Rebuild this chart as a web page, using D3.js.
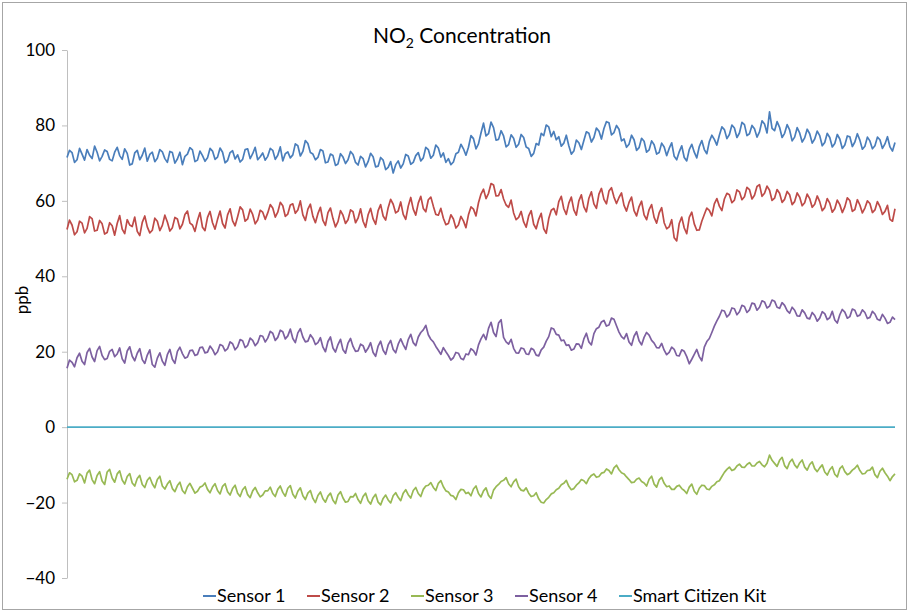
<!DOCTYPE html>
<html>
<head>
<meta charset="utf-8">
<script src="https://cdn.jsdelivr.net/npm/d3@7"></script>
<style>
  body { margin: 0; background: #fff; }
  svg { font-family: Lato, "Open Sans", sans-serif; }
</style>
</head>
<body>
<svg id="chart" width="909" height="612"></svg>
<script>
// values, one sample every ~2.5 px
const sensor1 = [
  71.5, 73.4, 72.8, 70.2, 70.9, 73.9, 72.4, 70.8, 73.6, 72.1, 71.2, 74.5, 72.9, 70.6, 71.8, 73.5, 73.1, 71.0, 70.6, 72.9,
  74.2, 72.0, 71.0, 73.8, 72.6, 69.5, 69.8, 72.7, 73.4, 70.9, 72.1, 74.0, 70.5, 72.3, 72.9, 70.4, 71.3, 73.6, 73.0, 71.2,
  70.2, 73.1, 72.8, 70.0, 71.1, 72.9, 69.6, 71.8, 72.4, 74.1, 73.5, 70.4, 70.8, 73.2, 72.0, 70.5, 71.4, 73.9, 73.2, 71.0,
  71.6, 74.0, 72.9, 70.1, 70.7, 72.8, 73.3, 71.1, 72.2, 70.3, 71.0, 73.6, 73.8, 71.2, 72.5, 74.2, 70.9, 71.7, 72.7, 70.8,
  71.8, 73.9, 73.4, 71.0, 72.1, 74.3, 70.6, 72.5, 73.0, 71.4, 72.2, 75.1, 74.6, 71.9, 73.1, 76.0, 75.2, 72.8, 72.4, 70.9,
  71.5, 73.6, 73.2, 70.1, 70.3, 72.4, 72.0, 69.4, 69.8, 72.5, 71.6, 69.9, 70.9, 73.1, 72.3, 70.2, 69.5, 71.8, 71.2, 69.0,
  70.4, 72.6, 71.7, 69.0, 69.2, 71.5, 70.8, 68.3, 68.9, 70.4, 67.4, 69.6, 70.6, 68.7, 69.8, 72.3, 71.9, 69.7, 70.2, 72.0,
  72.8, 70.6, 71.4, 74.2, 73.6, 71.3, 72.1, 74.8, 74.0, 71.6, 72.7, 70.2, 71.2, 69.6, 70.3, 72.5, 72.9, 75.0, 73.8, 72.1,
  74.2, 77.3, 76.5, 73.8, 75.1, 78.0, 80.6, 77.2, 77.8, 80.9, 79.4, 76.1, 76.3, 78.6, 77.2, 74.3, 74.9, 77.5, 76.6, 74.2,
  75.0, 77.6, 76.8, 74.3, 73.9, 71.8, 72.6, 75.2, 74.8, 77.9, 77.3, 80.1, 79.6, 77.0, 78.4, 76.2, 77.0, 74.5, 75.3, 77.4,
  74.6, 72.4, 73.2, 76.1, 75.4, 73.6, 76.0, 78.3, 77.9, 75.6, 76.8, 79.3, 78.5, 76.4, 79.2, 81.0, 80.7, 77.5, 78.1, 80.0,
  79.0, 75.9, 76.4, 74.2, 75.0, 77.4, 76.2, 73.4, 74.1, 76.6, 75.8, 72.9, 73.5, 75.9, 74.9, 72.4, 72.8, 75.3, 74.3, 72.0,
  73.9, 75.4, 71.8, 70.9, 73.0, 74.6, 71.5, 70.6, 73.6, 75.0, 72.9, 71.4, 74.4, 76.0, 73.6, 72.5, 75.7, 77.4, 76.3, 74.8,
  77.4, 79.6, 78.9, 76.5, 77.6, 80.1, 79.3, 76.8, 78.0, 80.8, 80.2, 77.3, 77.8, 80.0, 79.1, 76.9, 78.3, 81.2, 80.4, 78.0,
  83.6, 79.2, 78.6, 81.0, 79.5, 76.8, 77.9, 80.2, 78.8, 75.9, 76.9, 79.4, 78.0, 75.6, 76.7, 79.0, 77.8, 75.3, 76.4, 78.5,
  77.3, 74.6, 75.5, 77.9, 76.8, 74.3, 75.2, 77.6, 76.4, 73.9, 74.8, 77.2, 77.0, 74.4, 75.6, 77.8, 76.1, 73.7, 74.5, 76.9,
  75.9, 73.8, 74.6, 76.9, 76.2, 73.9, 75.1, 77.0, 74.3, 73.2, 75.5
];

const sensor2 = [
  52.4, 54.9, 53.6, 51.0, 51.8, 54.6, 54.1, 51.5, 52.7, 55.8, 55.3, 52.0, 52.2, 54.8, 53.9, 51.2, 51.6, 54.2, 53.4, 50.9,
  54.0, 56.1, 52.5, 51.3, 55.0, 53.6, 53.2, 55.7, 51.9, 50.8, 54.3, 56.0, 53.1, 51.5, 52.2, 55.4, 54.6, 52.1, 53.5, 56.2,
  54.4, 52.0, 52.9, 55.6, 55.2, 52.6, 53.8, 56.4, 57.3, 54.1, 53.6, 51.9, 54.8, 56.9, 53.0, 52.1, 55.6, 57.2, 54.2, 52.5,
  55.1, 57.3, 54.0, 52.8, 56.3, 57.9, 54.7, 53.4, 55.8, 58.4, 57.6, 54.6, 55.2, 57.8, 56.4, 53.9, 54.9, 57.5, 57.0, 55.1,
  56.8, 59.0, 58.1, 55.7, 57.0, 59.6, 58.7, 55.9, 56.5, 58.9, 59.2, 56.7, 57.6, 60.0, 56.3, 54.8, 57.8, 59.1, 55.9, 54.2,
  56.6, 58.3, 54.8, 53.5, 56.9, 58.1, 55.3, 53.1, 54.5, 57.4, 56.2, 54.0, 55.0, 57.6, 57.1, 54.2, 55.4, 57.9, 54.6, 53.0,
  56.3, 58.0, 55.2, 53.8, 57.4, 59.0, 56.0, 54.9, 58.2, 60.4, 59.1, 56.8, 57.3, 59.7, 56.4, 55.1, 58.6, 60.9, 57.8, 56.2,
  59.4, 61.2, 58.0, 57.1, 60.3, 61.0, 58.6, 56.4, 56.2, 58.0, 55.4, 53.7, 54.0, 56.3, 55.2, 52.8, 53.6, 55.9, 54.7, 52.9,
  56.3, 58.4, 57.8, 56.0, 59.5, 61.8, 63.1, 60.6, 62.0, 64.6, 64.2, 61.3, 61.4, 63.0, 60.5, 58.9, 58.3, 60.2, 56.8, 55.0,
  55.6, 57.2, 54.4, 53.0, 56.0, 57.4, 53.8, 52.6, 55.1, 56.7, 52.6, 51.4, 55.3, 57.5, 58.0, 56.3, 59.8, 61.2, 57.9, 56.4,
  59.4, 61.0, 57.6, 56.2, 60.0, 61.6, 58.4, 57.1, 60.7, 62.4, 59.2, 58.0, 61.8, 63.3, 60.4, 59.2, 62.6, 63.5, 61.0, 59.3,
  60.9, 62.1, 58.8, 57.3, 59.6, 61.0, 57.4, 56.0, 58.5, 59.9, 56.3, 55.0, 57.7, 59.0, 55.6, 54.1, 56.8, 58.2, 54.2, 52.6,
  53.1, 55.0, 50.2, 49.4, 54.0, 55.7, 52.8, 51.3, 55.6, 57.0, 53.9, 52.2, 52.3, 54.6, 56.4, 58.1, 57.5, 56.0, 59.2, 60.6,
  58.6, 57.4, 60.5, 62.0, 61.6, 59.5, 60.2, 62.9, 62.4, 60.3, 61.1, 63.6, 63.0, 60.5, 61.5, 63.8, 64.3, 61.2, 62.0, 63.9,
  62.8, 60.1, 60.7, 63.0, 62.0, 59.6, 60.4, 62.5, 61.6, 59.0, 59.8, 62.1, 61.0, 58.7, 59.5, 61.8, 60.6, 58.3, 59.1, 61.3,
  59.8, 57.4, 58.2, 60.6, 59.4, 57.0, 57.9, 60.2, 59.0, 56.9, 58.4, 60.8, 60.1, 57.2, 57.7, 60.3, 58.9, 56.8, 58.1, 60.0,
  59.3, 56.9, 57.6, 59.8, 58.5, 56.4, 57.2, 58.8, 55.1, 54.6, 57.9
];

const sensor3 = [
  -13.8, -12.1, -12.6, -14.5, -14.1, -12.4, -13.0, -14.8, -12.2, -11.4, -13.9, -15.0, -12.8, -11.8, -14.3, -15.2, -11.9, -11.2, -13.5, -14.6,
  -12.4, -11.6, -14.0, -15.1, -13.1, -12.3, -14.8, -15.6, -13.6, -12.8, -15.2, -16.0, -14.1, -13.3, -15.0, -16.1, -13.9, -13.0, -15.6, -16.4,
  -15.1, -14.2, -16.3, -17.1, -15.5, -14.6, -16.8, -17.6, -15.8, -14.9, -16.2, -17.5, -17.0, -15.9, -15.6, -14.8, -16.5, -17.4, -15.9, -15.0,
  -16.8, -17.7, -15.7, -15.0, -17.1, -18.0, -16.3, -15.4, -17.5, -18.4, -16.6, -15.8, -17.9, -18.7, -16.9, -16.0, -17.4, -18.5, -18.0, -16.9,
  -16.9, -15.9, -17.6, -18.4, -16.5, -15.6, -17.3, -18.3, -16.2, -15.5, -17.8, -18.8, -17.0, -16.1, -18.2, -19.2, -17.5, -16.8, -18.9, -20.0,
  -18.1, -17.2, -19.0, -19.9, -18.3, -17.5, -19.4, -20.3, -18.0, -17.1, -18.8, -19.9, -19.7, -18.4, -18.5, -17.6, -19.2, -20.2, -18.4, -17.5,
  -19.5, -20.4, -18.7, -17.8, -19.9, -20.6, -18.9, -18.0, -19.3, -20.1, -18.2, -17.4, -18.6, -19.5, -17.5, -16.6, -17.9, -18.8, -16.8, -16.0,
  -17.6, -18.4, -16.5, -15.6, -15.4, -14.7, -16.0, -16.8, -14.9, -14.2, -15.8, -16.9, -17.2, -18.1, -18.3, -19.2, -17.4, -16.5, -16.6, -17.6,
  -17.3, -18.2, -16.4, -15.6, -17.6, -18.5, -16.9, -16.1, -18.1, -18.9, -16.7, -15.8, -15.2, -14.4, -14.1, -13.4, -15.0, -15.8, -14.5, -13.8,
  -15.8, -16.7, -16.9, -16.1, -17.5, -18.4, -18.2, -17.4, -19.0, -19.9, -20.1, -19.2, -18.6, -17.7, -17.4, -16.6, -16.2, -15.3, -14.9, -14.1,
  -15.7, -16.6, -16.3, -15.4, -14.8, -13.9, -14.2, -15.0, -13.6, -12.8, -12.4, -13.3, -13.1, -12.2, -12.0, -11.1, -11.5, -12.4, -10.8, -10.1,
  -11.3, -12.1, -12.4, -13.2, -13.9, -14.7, -14.6, -13.8, -13.5, -14.4, -14.8, -15.6, -13.8, -13.0, -15.1, -15.9, -14.0, -13.3, -14.9, -15.8,
  -15.6, -16.5, -16.5, -15.7, -15.4, -16.3, -16.8, -17.6, -15.9, -15.1, -17.0, -17.8, -16.2, -15.4, -15.5, -16.4, -16.6, -15.7, -15.3, -14.5,
  -14.2, -13.1, -12.0, -11.2, -10.6, -11.5, -11.2, -10.3, -9.8, -10.6, -10.7, -9.9, -9.4, -10.3, -10.3, -9.5, -9.1, -10.0, -10.5, -9.6,
  -7.4, -8.8, -9.6, -10.4, -8.8, -8.0, -10.2, -11.0, -9.3, -8.5, -10.0, -10.8, -9.5, -8.7, -10.6, -11.4, -9.9, -9.2, -11.0, -11.8,
  -10.8, -10.0, -11.9, -12.7, -11.3, -10.5, -12.5, -13.2, -11.0, -10.3, -11.8, -12.6, -12.2, -11.4, -10.9, -10.1, -11.5, -12.4, -12.3, -11.5,
  -11.4, -10.6, -12.6, -13.4, -11.7, -10.9, -12.1, -13.0, -14.2, -13.1, -12.4
];

const sensor4 = [
  15.6, 17.8, 17.2, 16.0, 18.4, 19.6, 17.5, 16.6, 19.8, 20.9, 18.6, 17.4, 20.3, 21.4, 19.0, 17.9, 18.2, 20.1, 20.6, 18.7,
  19.4, 21.0, 18.1, 17.0, 20.2, 21.3, 18.8, 17.6, 19.6, 20.8, 17.9, 16.9, 19.1, 20.5, 16.6, 15.9, 18.3, 19.7, 17.5, 16.4,
  19.2, 20.6, 18.0, 16.9, 20.1, 21.2, 19.5, 18.3, 18.6, 20.3, 20.4, 19.0, 19.3, 21.1, 21.2, 19.7, 19.9, 21.5, 20.6, 19.2,
  20.0, 21.9, 21.6, 20.2, 20.8, 22.6, 22.1, 20.5, 21.3, 23.2, 22.9, 21.1, 21.7, 23.6, 23.0, 21.6, 22.4, 24.3, 24.1, 22.6,
  23.6, 25.4, 24.9, 23.0, 23.8, 25.7, 25.3, 23.4, 24.2, 26.0, 23.5, 22.4, 25.0, 26.1, 23.9, 22.6, 22.8, 24.5, 23.6, 21.9,
  22.4, 23.7, 21.2, 20.0, 22.7, 23.9, 21.0, 19.9, 21.9, 23.3, 20.5, 19.6, 22.3, 23.5, 21.4, 20.1, 20.2, 22.0, 21.6, 19.9,
  20.9, 22.4, 19.8, 18.8, 21.5, 22.8, 20.4, 19.3, 21.8, 23.0, 20.6, 19.7, 22.0, 23.4, 21.9, 20.6, 23.2, 24.6, 22.4, 21.6,
  23.9, 25.1, 25.8, 27.0, 24.5, 23.3, 22.6, 21.4, 20.4, 19.3, 21.1, 20.0, 19.0, 17.8, 18.4, 19.8, 19.6, 18.2, 17.9, 19.4,
  19.2, 20.8, 20.3, 19.1, 21.8, 23.4, 24.6, 23.2, 26.2, 27.8, 25.1, 24.0, 27.6, 28.5, 23.8, 22.6, 22.0, 23.3, 20.9, 19.7,
  19.6, 21.0, 20.8, 19.4, 19.3, 20.9, 20.5, 19.1, 18.9, 20.5, 21.2, 22.8, 24.0, 26.3, 26.0, 24.6, 24.4, 22.9, 23.1, 21.7,
  21.8, 20.4, 20.7, 22.1, 22.0, 20.9, 23.4, 24.9, 22.6, 21.8, 24.8, 26.1, 26.5, 27.9, 28.3, 26.8, 27.1, 28.9, 28.6, 26.9,
  25.2, 24.0, 23.4, 24.8, 22.6, 21.7, 24.1, 25.3, 22.9, 21.8, 23.8, 25.1, 24.4, 23.0, 22.3, 21.1, 21.0, 22.2, 20.4, 19.2,
  19.8, 21.2, 20.6, 19.0, 18.9, 20.5, 20.1, 18.7, 16.8, 18.0, 19.3, 20.6, 18.7, 17.6, 21.2, 22.7, 23.5, 25.1, 26.8, 28.2,
  29.4, 31.0, 30.8, 29.2, 29.9, 31.6, 31.4, 29.8, 30.6, 32.3, 32.0, 30.4, 31.1, 32.9, 32.7, 31.0, 31.8, 33.5, 33.2, 31.6,
  32.1, 33.7, 33.4, 31.8, 31.5, 33.0, 32.3, 30.9, 30.2, 31.8, 31.0, 29.5, 29.4, 31.1, 30.3, 28.9, 28.7, 30.4, 29.6, 28.1,
  28.9, 30.6, 30.1, 28.5, 29.0, 30.7, 28.4, 27.6, 29.8, 31.2, 30.5, 28.9, 29.3, 31.3, 31.0, 29.4, 29.7, 31.1, 30.4, 28.8,
  29.1, 30.7, 30.0, 28.6, 28.3, 29.9, 28.9, 27.5, 27.8, 29.2, 28.5
];

// flat at zero from the first to the last sample
const smartCitizenKit = [0, 0];

const seriesNames = ["Sensor 1", "Sensor 2", "Sensor 3", "Sensor 4", "Smart Citizen Kit"];
const seriesColors = ["#4a7ebb", "#be4b48", "#98b954", "#7d60a0", "#4bacc6"];
const yTicks = [-40, -20, 0, 20, 40, 60, 80, 100];

const svg = d3.select("#chart");
const width = +svg.attr("width");
const height = +svg.attr("height");
const margin = { top: 50, right: 14, bottom: 34, left: 67 };

const series = [sensor1, sensor2, sensor3, sensor4, smartCitizenKit].map((values, i) => ({
  name: seriesNames[i],
  color: seriesColors[i],
  values: values
}));

// outer frame
svg.append("rect")
  .attr("x", 2.5).attr("y", 2.5)
  .attr("width", width - 5).attr("height", height - 5)
  .attr("fill", "#fff")
  .attr("stroke", "#a6a6a6");

const x = d3.scaleLinear()
  .domain([0, 1])
  .range([margin.left, width - margin.right]);

const y = d3.scaleLinear()
  .domain([-40, 100])
  .range([height - margin.bottom, margin.top]);

// y axis
const yAxis = svg.append("g")
  .attr("transform", `translate(${margin.left},0)`)
  .call(d3.axisLeft(y).tickValues(yTicks).tickSize(5).tickSizeOuter(0).tickPadding(7));
yAxis.selectAll("path, line").attr("stroke", "#bfbfbf");
yAxis.selectAll("text")
  .attr("fill", "#000")
  .style("font-size", "17px")
  .style("font-family", "Lato, sans-serif");

svg.append("text")
  .attr("transform", "translate(28,300) rotate(-90)")
  .attr("text-anchor", "middle")
  .style("font-size", "17px")
  .text("ppb");

// title with subscript
const title = svg.append("text")
  .attr("x", 462)
  .attr("y", 43)
  .attr("text-anchor", "middle")
  .style("font-size", "21px");
title.append("tspan").text("NO");
title.append("tspan").attr("dy", 5).style("font-size", "14px").text("2");
title.append("tspan").attr("dy", -5).text(" Concentration");

// lines
const line = d3.line()
  .x((d, i, arr) => x(i / (arr.length - 1)))
  .y((d) => y(d));

svg.selectAll(".series")
  .data(series)
  .enter()
  .append("path")
  .attr("class", "series")
  .attr("fill", "none")
  .attr("stroke", (d) => d.color)
  .attr("stroke-width", 1.7)
  .attr("stroke-linejoin", "round")
  .attr("d", (d) => line(d.values));

// legend
const legendX = [203, 307, 411, 515, 619];
const legend = svg.selectAll(".legend")
  .data(series)
  .enter()
  .append("g")
  .attr("class", "legend")
  .attr("transform", (d, i) => `translate(${legendX[i]},602)`);

legend.append("line")
  .attr("x1", 0).attr("x2", 13)
  .attr("y1", -6).attr("y2", -6)
  .attr("stroke", (d) => d.color)
  .attr("stroke-width", 2);

legend.append("text")
  .attr("x", 14)
  .attr("y", 0)
  .style("font-size", "18px")
  .text((d) => d.name);
</script>
</body>
</html>
